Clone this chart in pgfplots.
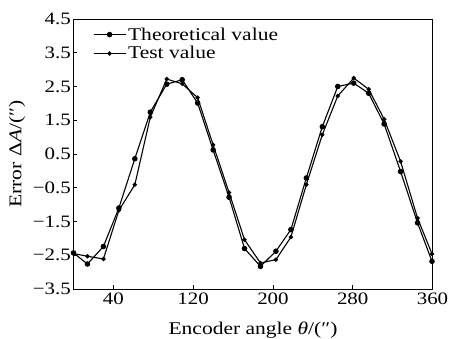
\documentclass[border=0pt]{standalone}
\usepackage{fontspec}
\setmainfont{Liberation Serif}[FakeStretch=1.2]
\usepackage{pgfplots}
\pgfplotsset{compat=1.18}
\pgfplotstableread{
x A B
0 -2.43 -2.45
14 -2.76 -2.53
30 -2.24 -2.61
45.5 -1.10 -1.17
61.5 0.36 -0.41
77 1.74 1.59
93.5 2.57 2.72
109 2.70 2.58
124.5 2.01 2.17
140 0.62 0.77
156 -0.78 -0.64
171.5 -2.30 -2.04
187.5 -2.83 -2.73
203 -2.38 -2.63
218 -1.74 -1.96
233.5 -0.21 -0.41
249.5 1.31 1.07
265 2.50 2.22
281 2.60 2.75
296 2.30 2.42
311.5 1.39 1.53
328 -0.02 0.28
345 -1.54 -1.40
359.5 -2.68 -2.46
}\datatable
\begin{document}
\begin{tikzpicture}
\begin{axis}[
 scale only axis, width=359bp, height=270bp,
 xmin=0, xmax=360, ymin=-3.5, ymax=4.5,
 clip=false,
 xtick={40,120,200,280,360}, xticklabels={40,120,200,280,360},
 ytick={-3.5,-2.5,-1.5,-0.5,0.5,1.5,2.5,3.5,4.5},
 yticklabels={−3.5,−2.5,−1.5,−0.5,0.5,1.5,2.5,3.5,4.5},
 tick pos=left, tick align=inside, major tick length=4bp,
 tick style={line width=0.8bp, black},
 tick label style={font=\fontsize{17.5}{17.5}\selectfont},
 yticklabel style={inner sep=2.5bp},
 xlabel={Encoder angle \textit{θ}/(″)},
 ylabel={Error Δ\textit{A}/(″)},
 label style={font=\fontsize{18}{18}\selectfont},
 xlabel style={at={(axis description cs:0.5,-0.152)},anchor=center},
 ylabel style={at={(axis description cs:-0.157,0.5)},anchor=center},
 axis line style={line width=1bp},
 legend style={draw=none, fill=none, at={(axis description cs:0.051,0.98)}, anchor=north west,
   font=\fontsize{18}{18}\selectfont, row sep=1bp, inner sep=1bp},
 legend cell align=left,
 legend image code/.code={\draw[#1,mark repeat=2,mark phase=2] plot coordinates {(0bp,0bp) (16bp,0bp) (32bp,0bp)};},
]
\coordinate (SW) at (rel axis cs:0,0);
\coordinate (NE) at (rel axis cs:1,1);
\addplot[black, line width=1.1bp, mark=*, mark size=2.2bp, mark options={fill=black,solid}] table[x=x,y=A] {\datatable};
\addlegendentry{Theoretical value}
\addplot[black, line width=1.1bp, mark=*, mark size=1.6bp, mark options={fill=black,solid}] table[x=x,y=B] {\datatable};
\addlegendentry{Test value}
\end{axis}
\pgfresetboundingbox
\path[use as bounding box] ([shift={(-73.5bp,-50bp)}]SW) rectangle ([shift={(18.5bp,19bp)}]NE);
\end{tikzpicture}
\end{document}
